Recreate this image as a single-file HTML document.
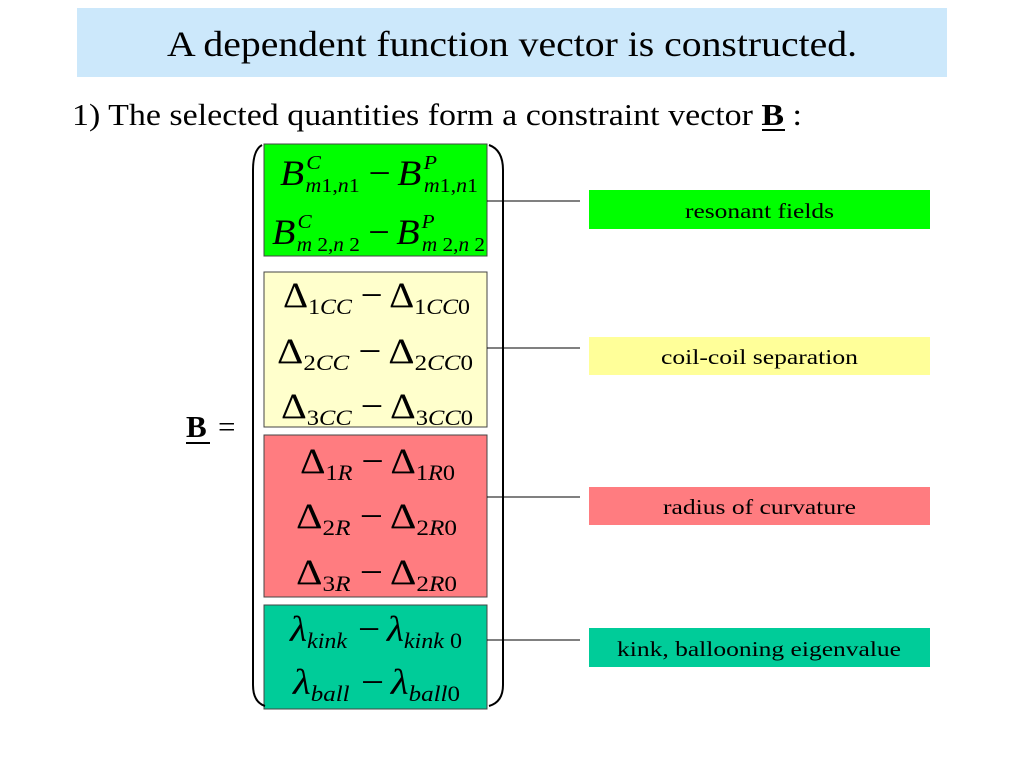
<!DOCTYPE html>
<html><head><meta charset="utf-8"><style>body{margin:0;background:#fff}svg{display:block}text{font-family:"Liberation Serif","Times New Roman",serif}</style></head>
<body>
<svg width="1024" height="768" viewBox="0 0 1024 768" xmlns="http://www.w3.org/2000/svg" font-family="'Liberation Serif', serif">
<rect x="77" y="8" width="870" height="69" fill="#cce8fb"/>
<text x="167" y="56" font-size="36" textLength="690" lengthAdjust="spacingAndGlyphs">A dependent function vector is constructed.</text>
<text x="72" y="125" font-size="31" textLength="730" lengthAdjust="spacingAndGlyphs">1) The selected quantities form a constraint vector <tspan font-weight="bold">B</tspan> :</text>
<line x1="762" y1="130" x2="785" y2="130" stroke="#000" stroke-width="2"/>
<text x="186" y="437" font-size="31" font-weight="bold">B</text>
<line x1="186" y1="443" x2="210" y2="443" stroke="#000" stroke-width="2"/>
<text x="218" y="437" font-size="31">=</text>
<rect x="264" y="144" width="223" height="112" fill="#00ff00" stroke="#444"/>
<rect x="264" y="272" width="223" height="155" fill="#ffffcc" stroke="#444"/>
<rect x="264" y="435" width="223" height="162" fill="#ff7c80" stroke="#444"/>
<rect x="264" y="605" width="223" height="104" fill="#00cc99" stroke="#444"/>
<path d="M262 145 Q253 150 253 170 L253 685 Q253 702 265 706" fill="none" stroke="#000" stroke-width="2"/>
<path d="M489 145 Q503 150 503 170 L503 685 Q503 702 489 706" fill="none" stroke="#000" stroke-width="2"/>
<g stroke="#000" stroke-width="1">
<line x1="487" y1="201" x2="580" y2="201"/>
<line x1="487" y1="348" x2="580" y2="348"/>
<line x1="487" y1="497" x2="580" y2="497"/>
<line x1="487" y1="640" x2="580" y2="640"/>
</g>
<rect x="589" y="190" width="341" height="39" fill="#00ff00"/>
<rect x="589" y="337" width="341" height="38" fill="#ffff99"/>
<rect x="589" y="487" width="341" height="38" fill="#ff7c80"/>
<rect x="589" y="628" width="341" height="39" fill="#00cc99"/>
<g font-size="21">
<text x="685" y="218" textLength="149" lengthAdjust="spacingAndGlyphs">resonant fields</text>
<text x="661" y="364" textLength="197" lengthAdjust="spacingAndGlyphs">coil-coil separation</text>
<text x="663" y="514" textLength="193" lengthAdjust="spacingAndGlyphs">radius of curvature</text>
<text x="617" y="656" textLength="284" lengthAdjust="spacingAndGlyphs">kink, ballooning eigenvalue</text>
</g>
<g font-size="36">
<text x="280" y="185" textLength="198" lengthAdjust="spacingAndGlyphs"><tspan font-style="italic">B</tspan><tspan font-size="20" font-style="italic" dx="2" dy="-16">C</tspan><tspan font-size="20" dx="-14" dy="23"><tspan font-style="italic">m</tspan>1,<tspan font-style="italic">n</tspan>1</tspan><tspan dx="8" dy="-7">−</tspan><tspan font-style="italic" dx="6">B</tspan><tspan font-size="20" font-style="italic" dx="2" dy="-16">P</tspan><tspan font-size="20" dx="-12" dy="23"><tspan font-style="italic">m</tspan>1,<tspan font-style="italic">n</tspan>1</tspan></text>
<text x="272" y="244" textLength="213" lengthAdjust="spacingAndGlyphs"><tspan font-style="italic">B</tspan><tspan font-size="20" font-style="italic" dx="2" dy="-16">C</tspan><tspan font-size="20" dx="-14" dy="23"><tspan font-style="italic">m</tspan> 2,<tspan font-style="italic">n</tspan> 2</tspan><tspan dx="8" dy="-7">−</tspan><tspan font-style="italic" dx="6">B</tspan><tspan font-size="20" font-style="italic" dx="2" dy="-16">P</tspan><tspan font-size="20" dx="-12" dy="23"><tspan font-style="italic">m</tspan> 2,<tspan font-style="italic">n</tspan> 2</tspan></text>

<text x="283" y="307" textLength="187" lengthAdjust="spacingAndGlyphs">Δ<tspan font-size="22" dy="7">1<tspan font-style="italic">CC</tspan></tspan><tspan dx="8" dy="-7">−</tspan><tspan dx="6">Δ</tspan><tspan font-size="22" dy="7">1<tspan font-style="italic">CC</tspan>0</tspan></text>
<text x="277" y="363" textLength="196" lengthAdjust="spacingAndGlyphs">Δ<tspan font-size="22" dy="7">2<tspan font-style="italic">CC</tspan></tspan><tspan dx="8" dy="-7">−</tspan><tspan dx="6">Δ</tspan><tspan font-size="22" dy="7">2<tspan font-style="italic">CC</tspan>0</tspan></text>
<text x="281" y="418" textLength="192" lengthAdjust="spacingAndGlyphs">Δ<tspan font-size="22" dy="7">3<tspan font-style="italic">CC</tspan></tspan><tspan dx="8" dy="-7">−</tspan><tspan dx="6">Δ</tspan><tspan font-size="22" dy="7">3<tspan font-style="italic">CC</tspan>0</tspan></text>

<text x="300" y="473" textLength="155" lengthAdjust="spacingAndGlyphs">Δ<tspan font-size="22" dy="7">1<tspan font-style="italic">R</tspan></tspan><tspan dx="8" dy="-7">−</tspan><tspan dx="6">Δ</tspan><tspan font-size="22" dy="7">1<tspan font-style="italic">R</tspan>0</tspan></text>
<text x="296" y="528" textLength="161" lengthAdjust="spacingAndGlyphs">Δ<tspan font-size="22" dy="7">2<tspan font-style="italic">R</tspan></tspan><tspan dx="8" dy="-7">−</tspan><tspan dx="6">Δ</tspan><tspan font-size="22" dy="7">2<tspan font-style="italic">R</tspan>0</tspan></text>
<text x="296" y="584" textLength="161" lengthAdjust="spacingAndGlyphs">Δ<tspan font-size="22" dy="7">3<tspan font-style="italic">R</tspan></tspan><tspan dx="8" dy="-7">−</tspan><tspan dx="6">Δ</tspan><tspan font-size="22" dy="7">2<tspan font-style="italic">R</tspan>0</tspan></text>

<text x="290" y="641" textLength="172" lengthAdjust="spacingAndGlyphs"><tspan font-style="italic">λ</tspan><tspan font-size="22" font-style="italic" dy="7">kink</tspan><tspan dx="10" dy="-7">−</tspan><tspan dx="6" font-style="italic">λ</tspan><tspan font-size="22" dy="7"><tspan font-style="italic">kink</tspan> 0</tspan></text>
<text x="293" y="694" textLength="167" lengthAdjust="spacingAndGlyphs"><tspan font-style="italic">λ</tspan><tspan font-size="22" font-style="italic" dy="7">ball</tspan><tspan dx="10" dy="-7">−</tspan><tspan dx="6" font-style="italic">λ</tspan><tspan font-size="22" dy="7"><tspan font-style="italic">ball</tspan>0</tspan></text>
</g>
</svg>
</body></html>
